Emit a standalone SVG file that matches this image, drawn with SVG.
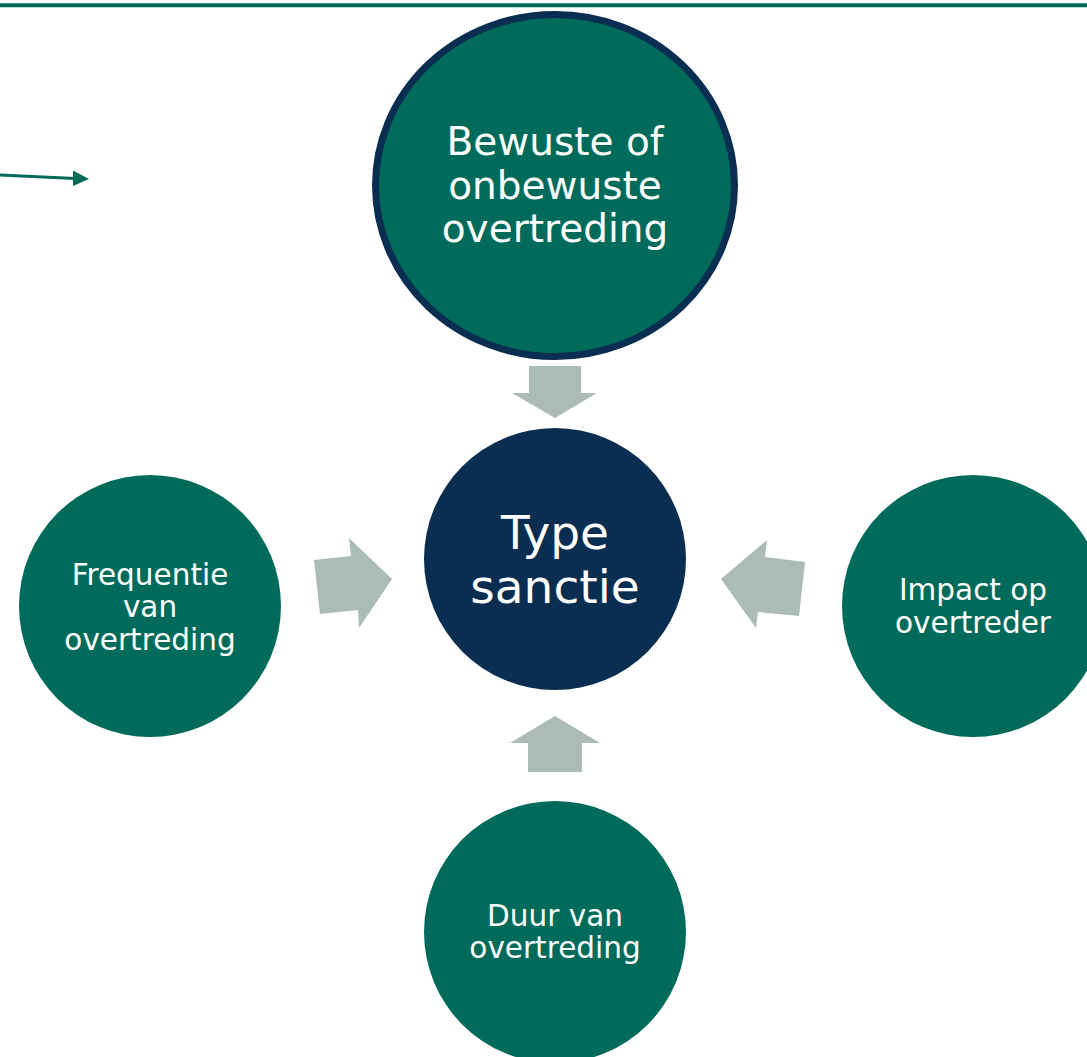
<svg xmlns="http://www.w3.org/2000/svg" width="1087" height="1057" viewBox="0 0 1087 1057">
<style>
.node{fill:#006B5A}
.center{fill:#0A2D52}
.lbl{font-family:"DejaVu Sans","Open Sans",sans-serif;fill:#FFFFFF;text-anchor:middle}
.s{font-size:29.5px}
.m{font-size:39px}
.l{font-size:47px}
.arr{fill:#ABBBB5}
</style>
<rect x="0" y="0" width="1087" height="1057" fill="#FFFFFF"/>
<line x1="0" y1="5.3" x2="1087" y2="5.3" stroke="#006B5A" stroke-width="4"/>
<g id="connectors">
<line x1="0" y1="175" x2="75" y2="178.5" stroke="#006B5A" stroke-width="3"/>
<polygon points="73,170.5 89,179 73,186" fill="#006B5A"/>
<polygon class="arr" points="529,366 581,366 581,393 597,393 555,418 512,393 529,393"/>
<polygon class="arr" points="555,716 600,743 582,743 582,772 528,772 528,743 510,743"/>
<polygon class="arr" points="314,560 351,556 349,538 392,579 359,628 358,610 320,614"/>
<polygon class="arr" points="721,579 767,540 765,557 805,562 799,616 758,612 756,628"/>
</g>
<g id="node-top">
<ellipse cx="555" cy="185.5" rx="179.5" ry="171" class="node" stroke="#0A2D52" stroke-width="7"/>
<text class="lbl m" x="555" y="155">Bewuste of</text>
<text class="lbl m" x="555" y="199">onbewuste</text>
<text class="lbl m" x="555" y="242">overtreding</text>
</g>
<g id="node-center">
<circle cx="555" cy="559" r="131" class="center"/>
<text class="lbl l" x="555" y="549">Type</text>
<text class="lbl l" x="555" y="603">sanctie</text>
</g>
<g id="node-left">
<circle cx="150" cy="606" r="131" class="node"/>
<text class="lbl s" x="150" y="585">Frequentie</text>
<text class="lbl s" x="150" y="617">van</text>
<text class="lbl s" x="150" y="650">overtreding</text>
</g>
<g id="node-right">
<circle cx="973" cy="606" r="131" class="node"/>
<text class="lbl s" x="973" y="600">Impact op</text>
<text class="lbl s" x="973" y="633">overtreder</text>
</g>
<g id="node-bottom">
<circle cx="555" cy="932" r="131" class="node"/>
<text class="lbl s" x="555" y="926">Duur van</text>
<text class="lbl s" x="555" y="958">overtreding</text>
</g>
</svg>
